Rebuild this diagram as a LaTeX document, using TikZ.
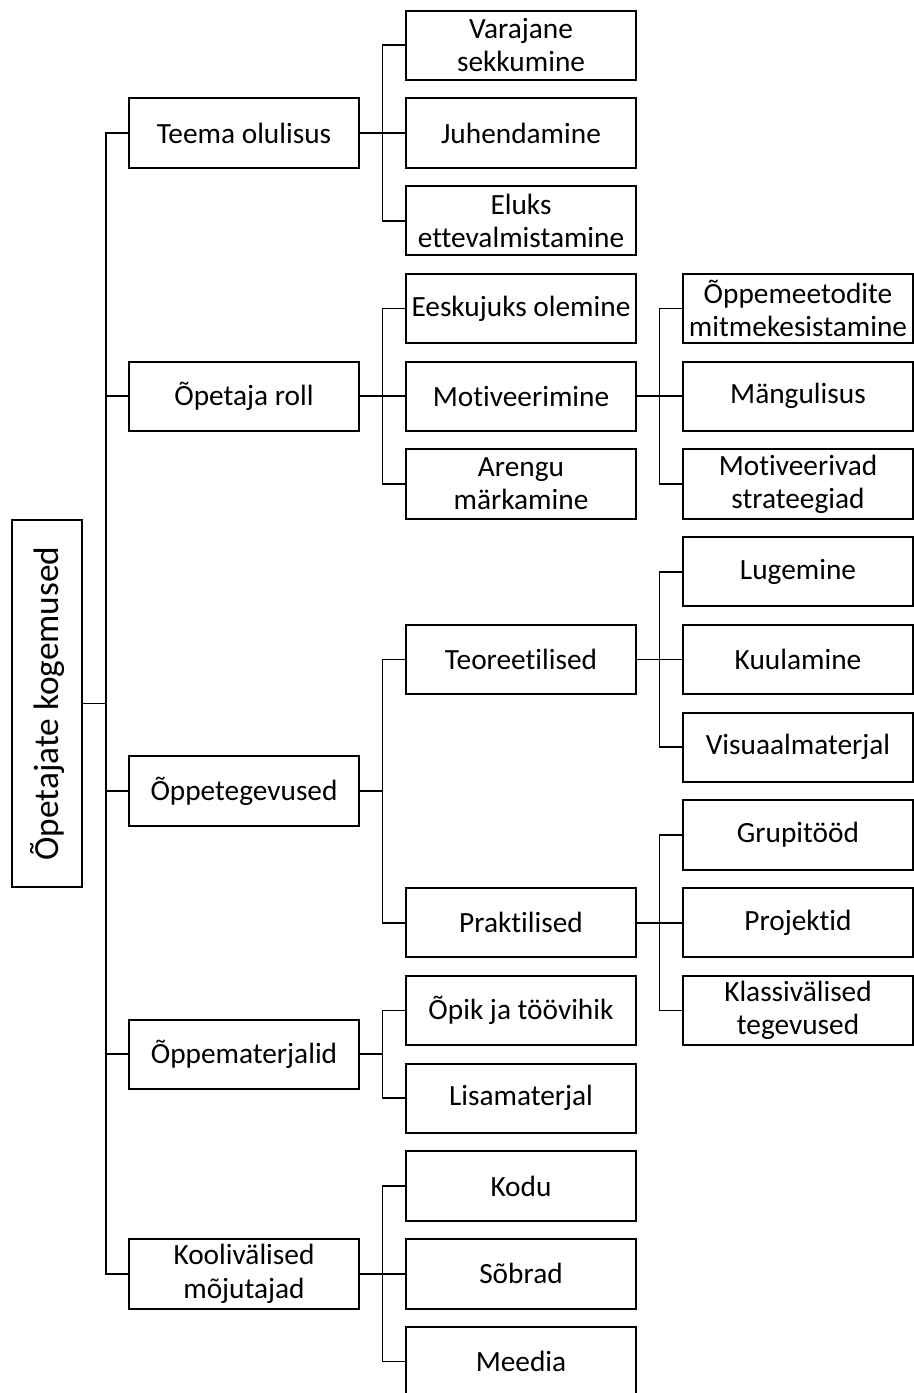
\documentclass[tikz,border=0pt]{standalone}
\usepackage{fontspec}
\setmainfont{Carlito}[Ligatures=NoCommon]
\begin{document}
\begin{tikzpicture}[x=0.75pt,y=-0.75pt,
  box/.style={draw=black,line width=1.5pt,minimum width=172.5pt,minimum height=52.1pt,
    inner sep=0pt,align=center,font=\fontsize{22}{25}\selectfont},
  rootbox/.style={draw=black,line width=1.5pt,minimum width=52.5pt,minimum height=275.25pt,
    inner sep=0pt},
  conn/.style={draw=black,line width=1.45pt}]
\useasboundingbox (0,0) rectangle (914,1393);
% root
\node[rootbox] (root) at (47,703.5) {};
\node[rotate=90,font=\fontsize{26.5}{30}\selectfont] (roottext) at (47,703.5) {Õpetajate kogemused};
% level 1
\node[box] (teema) at (244,133) {Teema olulisus};
\node[box] (roll) at (244,396.25) {Õpetaja roll};
\node[box] (tegev) at (244,791.1) {Õppetegevused};
\node[box] (mater) at (244,1054.4) {Õppematerjalid};
\node[box] (kooli) at (244,1273.75) {Koolivälised\\mõjutajad};
% level 2
\node[box] (varajane) at (521,45.25) {Varajane\\sekkumine};
\node[box] (juh) at (521,133) {Juhendamine};
\node[box] (eluks) at (521,220.75) {Eluks\\ettevalmistamine};
\node[box] (eesk) at (521,308.5) {Eeskujuks olemine};
\node[box] (motiv) at (521,396.25) {Motiveerimine};
\node[box] (arengu) at (521,484) {Arengu\\märkamine};
\node[box] (teor) at (521,659.5) {Teoreetilised};
\node[box] (prakt) at (521,922.75) {Praktilised};
\node[box] (opik) at (521,1010.5) {Õpik ja töövihik};
\node[box] (lisa) at (521,1098.25) {Lisamaterjal};
\node[box] (kodu) at (521,1186) {Kodu};
\node[box] (sobrad) at (521,1273.75) {Sõbrad};
\node[box] (meedia) at (521,1361.5) {Meedia};
% level 3
\node[box] (meet) at (798,308.5) {Õppemeetodite\\mitmekesistamine};
\node[box] (mang) at (798,396.25) {Mängulisus};
\node[box] (strat) at (798,484) {Motiveerivad\\strateegiad};
\node[box] (luge) at (798,571.75) {Lugemine};
\node[box] (kuul) at (798,659.5) {Kuulamine};
\node[box] (visu) at (798,747.25) {Visuaalmaterjal};
\node[box] (grup) at (798,835) {Grupitööd};
\node[box] (proj) at (798,922.75) {Projektid};
\node[box] (klass) at (798,1010.5) {Klassivälised\\tegevused};
% connectors
\foreach \c in {teema,roll,tegev,mater,kooli}
  \draw[conn] (\c.west) -- ++(-22,0) |- (root.east);
\foreach \c in {varajane,juh,eluks}
  \draw[conn] (\c.west) -- ++(-22.5,0) |- (teema.east);
\foreach \c in {eesk,motiv,arengu}
  \draw[conn] (\c.west) -- ++(-22.5,0) |- (roll.east);
\foreach \c in {teor,prakt}
  \draw[conn] (\c.west) -- ++(-22.5,0) |- (tegev.east);
\foreach \c in {opik,lisa}
  \draw[conn] (\c.west) -- ++(-22.5,0) |- (mater.east);
\foreach \c in {kodu,sobrad,meedia}
  \draw[conn] (\c.west) -- ++(-22.5,0) |- (kooli.east);
\foreach \c in {meet,mang,strat}
  \draw[conn] (\c.west) -- ++(-22.5,0) |- (motiv.east);
\foreach \c in {luge,kuul,visu}
  \draw[conn] (\c.west) -- ++(-22.5,0) |- (teor.east);
\foreach \c in {grup,proj,klass}
  \draw[conn] (\c.west) -- ++(-22.5,0) |- (prakt.east);
\end{tikzpicture}
\end{document}
